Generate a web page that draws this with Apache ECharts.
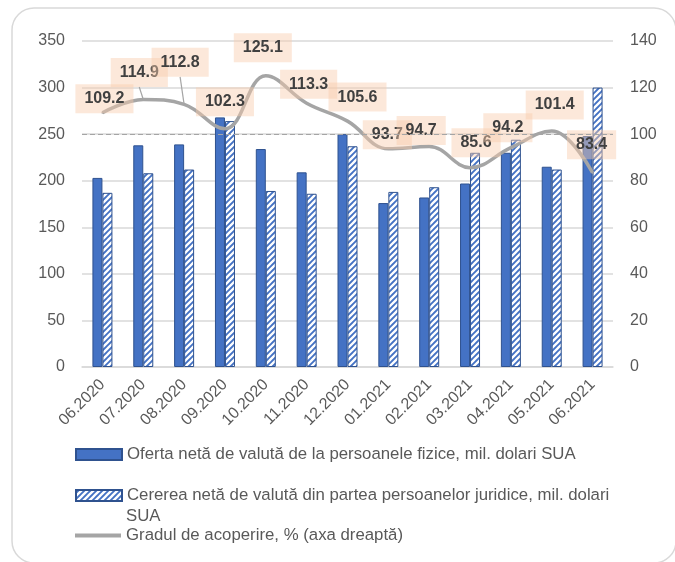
<!DOCTYPE html>
<html>
<head>
<meta charset="utf-8">
<script src="https://cdn.jsdelivr.net/npm/echarts@6/dist/echarts.min.js"></script>
<style>
  html, body { margin: 0; padding: 0; background: #fff; }
  #main { width: 675px; height: 562px; }
</style>
</head>
<body>
<div id="main"></div>
<script>
// luni
var months = ['06.2020', '07.2020', '08.2020', '09.2020', '10.2020', '11.2020', '12.2020',
              '01.2021', '02.2021', '03.2021', '04.2021', '05.2021', '06.2021'];
// oferta neta PF, mil. USD
var oferta = [203, 238, 239, 268, 234, 209, 250, 176, 182, 197, 230, 215, 248];
// cererea neta PJ, mil. USD
var cererea = [187, 208, 212, 264, 189, 186, 237, 188, 193, 230, 244, 212, 300];
// gradul de acoperire, %
var grad = [109.2, 114.9, 112.8, 102.3, 125.1, 113.3, 105.6, 93.7, 94.7, 85.6, 94.2, 101.4, 83.4];

var nameOferta = 'Oferta netă de valută de la persoanele fizice, mil. dolari SUA';
var nameCererea = 'Cererea netă de valută din partea persoanelor juridice, mil. dolari SUA';
var nameGrad = 'Gradul de acoperire, % (axa dreaptă)';

// where each value box sits relative to its point (px), like in the excel chart
var labelShift = [[2, -14], [-4, -27], [-4, -42], [0, -27], [-3, -28], [2, -19], [10, -24],
                  [-1, -14], [-8, -16], [6, -25], [-3, -20], [3, -26], [-1, -28]];

var blue = '#4472C4', blueEdge = '#2F528F', gray = '#A5A5A5';
var font = 'Liberation Sans, Arial, sans-serif';
var legendSize = 16.8;

// white upward diagonal stripes on blue
function hatch() {
    var c = document.createElement('canvas');
    c.width = 6; c.height = 6;
    var g = c.getContext('2d');
    g.fillStyle = blue;
    g.fillRect(0, 0, 6, 6);
    g.strokeStyle = '#fff';
    g.lineWidth = 2.3;
    g.beginPath();
    g.moveTo(-1, 7); g.lineTo(7, -1);
    g.moveTo(-4, 4); g.lineTo(4, -4);
    g.moveTo(2, 10); g.lineTo(10, 2);
    g.stroke();
    return c;
}

var myChart = echarts.init(document.getElementById('main'));

var lineData = grad.map(function (v, i) {
    var d = { value: v, label: { offset: labelShift[i] } };
    if (i === 1 || i === 2) {
        d.labelLine = { show: true, lineStyle: { color: gray, width: 1.2 } };
    }
    return d;
});

var option = {
    animation: false,
    textStyle: { fontFamily: font },
    grid: { left: 82, right: 62, top: 41, bottom: 195 },
    xAxis: {
        type: 'category',
        data: months,
        axisTick: { show: false },
        axisLine: { lineStyle: { color: '#D9D9D9', width: 1.5 } },
        axisLabel: { rotate: 45, color: '#595959', fontSize: 16, margin: 15, interval: 0 }
    },
    yAxis: [{
        type: 'value', min: 0, max: 350, interval: 50,
        axisLine: { show: false }, axisTick: { show: false },
        axisLabel: { color: '#595959', fontSize: 16, margin: 17 },
        splitLine: { lineStyle: { color: '#D9D9D9', width: 1.5 } }
    }, {
        type: 'value', min: 0, max: 140, interval: 20,
        axisLine: { show: false }, axisTick: { show: false },
        axisLabel: { color: '#595959', fontSize: 16, margin: 17 },
        splitLine: { show: false }
    }],
    legend: [{
        data: [nameOferta], left: 75, top: 444.5, padding: 0,
        itemWidth: 46, itemHeight: 11, itemGap: 5, icon: 'rect',
        textStyle: { color: '#595959', fontSize: legendSize, lineHeight: 20 }
    }, {
        data: [nameCererea], left: 75, top: 485.5, padding: 0,
        itemWidth: 46, itemHeight: 11, icon: 'rect',
        formatter: function (n) { return n.replace(/ SUA$/, ''); },
        textStyle: { color: '#595959', fontSize: legendSize, lineHeight: 20 }
    }, {
        data: [{ name: nameGrad, icon: 'rect', itemStyle: { color: gray } }],
        left: 75, top: 525.5, padding: 0,
        itemWidth: 46, itemHeight: 4,
        textStyle: { color: '#595959', fontSize: legendSize, lineHeight: 20 }
    }],
    graphic: [{
        type: 'rect', silent: true,
        shape: { x: 12, y: 8, width: 664, height: 555, r: 22 },
        style: { fill: 'none', stroke: '#D9D9D9', lineWidth: 1.5 }
    }, {
        type: 'text', left: 126, top: 508, silent: true,
        style: { text: 'SUA', fill: '#595959', font: legendSize + 'px ' + font }
    }],
    series: [{
        name: nameOferta,
        type: 'bar',
        data: oferta,
        barWidth: 10,
        barGap: '0%',
        itemStyle: { color: blue, borderColor: blueEdge, borderWidth: 1 }
    }, {
        name: nameCererea,
        type: 'bar',
        data: cererea,
        barWidth: 10,
        itemStyle: { color: { image: hatch(), repeat: 'repeat' }, borderColor: blueEdge, borderWidth: 1 }
    }, {
        name: nameGrad,
        type: 'line',
        yAxisIndex: 1,
        data: lineData,
        smooth: 0.4,
        symbol: 'circle',
        symbolSize: 2,
        itemStyle: { color: gray },
        lineStyle: { color: gray, width: 3.5 },
        label: {
            show: true,
            position: 'inside',
            color: '#404040',
            fontWeight: 'bold',
            fontSize: 16,
            lineHeight: 16,
            backgroundColor: 'rgba(248,203,173,0.45)',
            padding: [7, 9, 6, 9]
        },
        markLine: {
            silent: true,
            symbol: 'none',
            label: { show: false },
            lineStyle: { color: gray, type: [5, 3], width: 1.2 },
            data: [{ yAxis: 100 }]
        },
        z: 3
    }]
};
myChart.setOption(option);
</script>
</body>
</html>
